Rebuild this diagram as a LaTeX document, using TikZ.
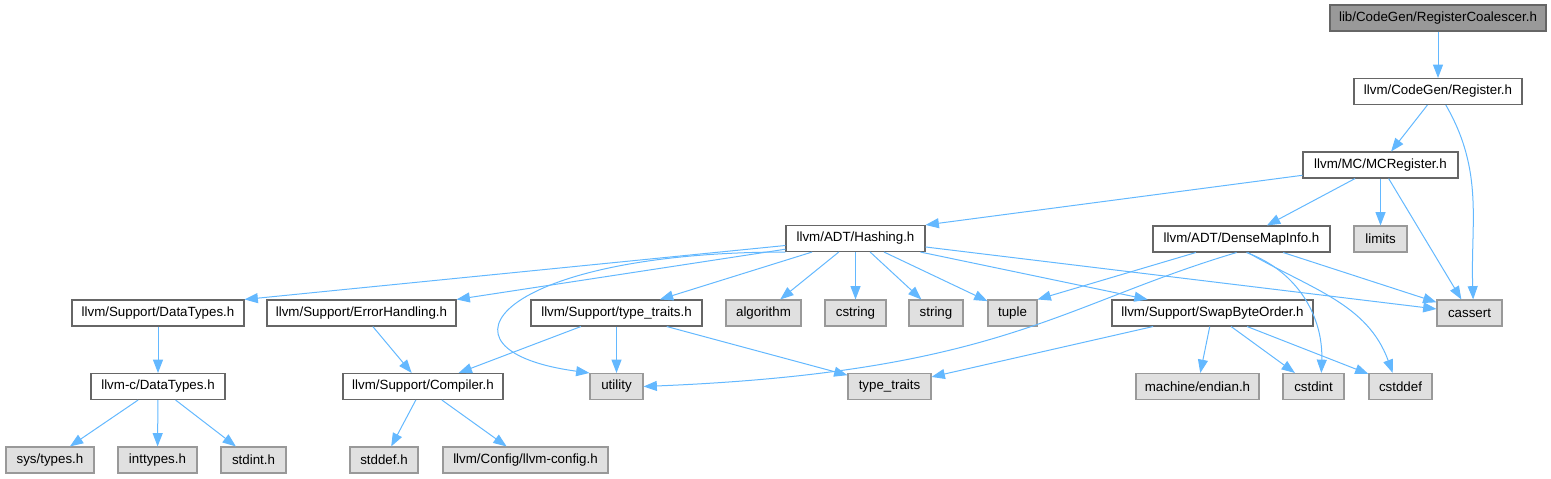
\documentclass[tikz,border=0pt]{standalone}
\usepackage{fontspec}
\setmainfont{Liberation Sans}
\usepackage{xcolor}
\usepackage{tikz}
\usetikzlibrary{arrows.meta, positioning}

\definecolor{edgeblue}{HTML}{63B8FF}
\definecolor{boxline}{HTML}{666666}
\definecolor{sysline}{HTML}{999999}
\definecolor{sysfill}{HTML}{E0E0E0}
\definecolor{topfill}{HTML}{999999}

\begin{document}
\begin{tikzpicture}[
    x=0.75pt, y=-0.75pt,
    file/.style={rectangle, draw=boxline, fill=white, line width=0.8pt, minimum height=19.5pt, inner sep=0pt, font=\fontsize{10}{12}\selectfont},
    sysfile/.style={file, draw=sysline, fill=sysfill},
    mainfile/.style={file, fill=topfill},
    arrow/.style={-{Triangle[length=10pt, width=7.5pt]}, draw=edgeblue, line width=0.75pt}
]
    \useasboundingbox (0,0) rectangle (1551,478);

    % Nodes
    \node[mainfile, minimum width=162pt] (coalescer) at (1438,18) {lib/CodeGen/RegisterCoalescer.h};
    \node[file, minimum width=126pt] (register) at (1438,91.5) {llvm/CodeGen/Register.h};
    \node[file, minimum width=116.25pt] (mcregister) at (1380.5,165) {llvm/MC/MCRegister.h};

    \node[file, minimum width=104.25pt] (hashing) at (855.5,238.5) {llvm/ADT/Hashing.h};
    \node[file, minimum width=132.75pt] (densemap) at (1241.5,239) {llvm/ADT/DenseMapInfo.h};
    \node[sysfile, minimum width=39.75pt] (limits) at (1380.5,239) {limits};

    \node[file, minimum width=129pt] (sdatatypes) at (158,313) {llvm/Support/DataTypes.h};
    \node[file, minimum width=141.75pt] (errhandling) at (361.5,313) {llvm/Support/ErrorHandling.h};
    \node[file, minimum width=128.25pt] (typetraitsh) at (616.5,313) {llvm/Support/type\_traits.h};
    \node[sysfile, minimum width=56.25pt] (algorithm) at (763.5,313) {algorithm};
    \node[sysfile, minimum width=45.75pt] (cstring) at (855.5,313) {cstring};
    \node[sysfile, minimum width=40.5pt] (string) at (936,313) {string};
    \node[sysfile, minimum width=36.75pt] (tuple) at (1012.5,313) {tuple};
    \node[file, minimum width=150.75pt] (swapbyte) at (1212.5,313) {llvm/Support/SwapByteOrder.h};
    \node[sysfile, minimum width=48.75pt] (cassert) at (1469.5,313) {cassert};

    \node[file, minimum width=100.5pt] (cdatatypes) at (158,386.5) {llvm-c/DataTypes.h};
    \node[file, minimum width=120pt] (compiler) at (423,386.5) {llvm/Support/Compiler.h};
    \node[sysfile, minimum width=39.75pt] (utility) at (616.5,386.5) {utility};
    \node[sysfile, minimum width=62.25pt] (typetraits) at (889.5,386.5) {type\_traits};
    \node[sysfile, minimum width=92.25pt] (endian) at (1197.5,386.5) {machine/endian.h};
    \node[sysfile, minimum width=45.75pt] (cstdint) at (1313.5,386.5) {cstdint};
    \node[sysfile, minimum width=47.25pt] (cstddef) at (1400.5,386.5) {cstddef};

    \node[sysfile, minimum width=66pt] (systypes) at (50,460) {sys/types.h};
    \node[sysfile, minimum width=59.25pt] (inttypes) at (157.5,460) {inttypes.h};
    \node[sysfile, minimum width=48.75pt] (stdint) at (253.5,460) {stdint.h};
    \node[sysfile, minimum width=51pt] (stddef) at (384,460) {stddef.h};
    \node[sysfile, minimum width=123.75pt] (llvmconfig) at (525.5,460) {llvm/Config/llvm-config.h};

    % Arrows
    \draw[arrow] (coalescer) -- (register);
    \draw[arrow] (register) -- (mcregister);
    \draw[arrow] (register.300) to[out=-60, in=92] (cassert.75);
    \draw[arrow] (mcregister) -- (hashing.north east);
    \draw[arrow] (mcregister) -- (densemap);
    \draw[arrow] (mcregister) -- (limits);
    \draw[arrow] (mcregister) -- (cassert);

    \draw[arrow] (hashing) -- (sdatatypes.north east);
    \draw[arrow] (hashing) -- (errhandling.north east);
    \draw[arrow] (hashing.south west) .. controls (500,252) and (420,350) .. (utility.north west);
    \draw[arrow] (hashing) -- (typetraitsh);
    \draw[arrow] (hashing) -- (algorithm);
    \draw[arrow] (hashing) -- (cstring);
    \draw[arrow] (hashing) -- (string);
    \draw[arrow] (hashing) -- (tuple);
    \draw[arrow] (hashing) -- (swapbyte);
    \draw[arrow] (hashing) -- (cassert);

    \draw[arrow] (densemap) -- (tuple.north east);
    \draw[arrow] (densemap.250) .. controls (1060,305) and (1000,372) .. (utility.east);
    \draw[arrow] (densemap) -- (cassert);
    \draw[arrow] (densemap.290) to[out=-20, in=88] (cstdint.60);
    \draw[arrow] (densemap.295) to[out=-30, in=110] (cstddef.120);

    \draw[arrow] (swapbyte) -- (typetraits);
    \draw[arrow] (swapbyte) -- (endian);
    \draw[arrow] (swapbyte) -- (cstdint);
    \draw[arrow] (swapbyte) -- (cstddef);

    \draw[arrow] (typetraitsh) -- (compiler);
    \draw[arrow] (typetraitsh) -- (utility);
    \draw[arrow] (typetraitsh) -- (typetraits);
    \draw[arrow] (errhandling) -- (compiler);

    \draw[arrow] (sdatatypes) -- (cdatatypes);
    \draw[arrow] (cdatatypes) -- (systypes);
    \draw[arrow] (cdatatypes) -- (inttypes);
    \draw[arrow] (cdatatypes) -- (stdint);
    \draw[arrow] (compiler) -- (stddef);
    \draw[arrow] (compiler) -- (llvmconfig);
\end{tikzpicture}
\end{document}
